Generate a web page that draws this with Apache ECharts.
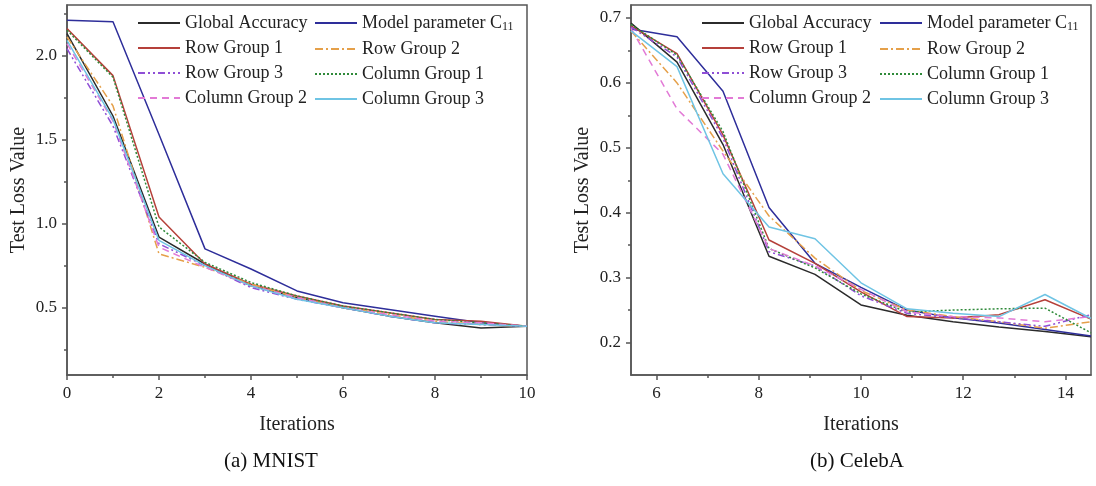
<!DOCTYPE html>
<html>
<head>
<meta charset="utf-8">
<script src="https://cdn.jsdelivr.net/npm/echarts@6/dist/echarts.min.js"></script>
<style>
    html, body { margin: 0; padding: 0; background: #fff; }
    #main { width: 1096px; height: 486px; }
</style>
</head>
<body>
<div id="main"></div>
<script>
// MNIST (left panel)
var mnistIter = [0, 1, 2, 3, 4, 5, 6, 7, 8, 9, 10];
var mnistGlobal = [2.13, 1.64, 0.92, 0.76, 0.63, 0.56, 0.50, 0.45, 0.41, 0.38, 0.39];
var mnistModel  = [2.21, 2.20, 1.53, 0.85, 0.73, 0.60, 0.53, 0.49, 0.45, 0.41, 0.39];
var mnistRow1   = [2.16, 1.88, 1.04, 0.76, 0.64, 0.57, 0.51, 0.47, 0.43, 0.42, 0.39];
var mnistRow2   = [2.11, 1.70, 0.82, 0.74, 0.64, 0.56, 0.50, 0.46, 0.42, 0.40, 0.39];
var mnistRow3   = [2.04, 1.58, 0.88, 0.75, 0.62, 0.55, 0.50, 0.45, 0.41, 0.40, 0.39];
var mnistCol1   = [2.15, 1.87, 0.98, 0.77, 0.65, 0.57, 0.51, 0.47, 0.43, 0.41, 0.39];
var mnistCol2   = [2.07, 1.61, 0.86, 0.74, 0.63, 0.56, 0.50, 0.46, 0.42, 0.41, 0.39];
var mnistCol3   = [2.09, 1.62, 0.90, 0.75, 0.63, 0.55, 0.50, 0.45, 0.41, 0.40, 0.39];

// CelebA (right panel)
var celebIter = [5.5, 6.4, 7.3, 8.2, 9.1, 10.0, 10.9, 11.8, 12.7, 13.6, 14.5];
var celebGlobal = [0.692, 0.632, 0.505, 0.333, 0.305, 0.258, 0.242, 0.232, 0.224, 0.217, 0.209];
var celebModel  = [0.683, 0.671, 0.587, 0.408, 0.322, 0.285, 0.250, 0.238, 0.230, 0.220, 0.210];
var celebRow1   = [0.688, 0.645, 0.520, 0.358, 0.322, 0.278, 0.240, 0.238, 0.243, 0.266, 0.236];
var celebRow2   = [0.680, 0.600, 0.495, 0.395, 0.330, 0.280, 0.250, 0.240, 0.232, 0.222, 0.232];
var celebRow3   = [0.686, 0.640, 0.515, 0.340, 0.318, 0.272, 0.245, 0.238, 0.232, 0.225, 0.243];
var celebCol1   = [0.690, 0.643, 0.525, 0.345, 0.315, 0.275, 0.247, 0.250, 0.252, 0.253, 0.215];
var celebCol2   = [0.684, 0.560, 0.490, 0.345, 0.318, 0.282, 0.247, 0.240, 0.238, 0.232, 0.240];
var celebCol3   = [0.680, 0.625, 0.460, 0.378, 0.360, 0.292, 0.252, 0.245, 0.240, 0.274, 0.237];

// tick labels
var mnistXTicks = [0, 2, 4, 6, 8, 10];
var mnistXMinor = [1, 3, 5, 7, 9];
var mnistYTicks = [0.5, 1.0, 1.5, 2.0];
var mnistYMinor = [0.25, 0.75, 1.25, 1.75, 2.25];
var celebXTicks = [6, 8, 10, 12, 14];
var celebXMinor = [7, 9, 11, 13];
var celebYTicks = [0.2, 0.3, 0.4, 0.5, 0.6, 0.7];
var celebYMinor = [0.25, 0.35, 0.45, 0.55, 0.65];

var names = ['Global Accuracy', 'Model parameter C11', 'Row Group 1', 'Row Group 2',
             'Row Group 3', 'Column Group 1', 'Column Group 2', 'Column Group 3'];
var colors = ['#2b2b2b', '#2e2e9a', '#b5403a', '#e5a04a', '#8f4fd6', '#2f8a3a', '#e27ad6', '#6fc4e4'];
var dashes = ['solid', 'solid', 'solid', [8, 3, 2, 3], [7, 3, 2, 3, 2, 3], [2, 2], [7, 5], 'solid'];

var serif = 'Liberation Serif';
var axisColor = '#555';

function pairs(xs, ys) {
    var out = [];
    for (var i = 0; i < xs.length; i++) {
        out.push([xs[i], ys[i]]);
    }
    return out;
}

function mainAxis(grid, min, max, ticks, name, gap, digits) {
    return {
        gridIndex: grid,
        type: 'value',
        min: min,
        max: max,
        name: name,
        nameLocation: 'middle',
        nameGap: gap,
        nameTextStyle: { fontFamily: serif, fontSize: 20, color: '#222' },
        axisLine: { show: true, lineStyle: { color: axisColor, width: 1.5 } },
        axisTick: { show: true, length: 5, customValues: ticks, lineStyle: { color: axisColor, width: 1.5 } },
        axisLabel: {
            customValues: ticks,
            fontFamily: serif, fontSize: 17, color: '#222', margin: 10,
            formatter: function (v) { return digits ? v.toFixed(digits) : String(v); }
        },
        splitLine: { show: false }
    };
}

function minorAxis(grid, min, max, ticks, pos) {
    return {
        gridIndex: grid,
        type: 'value',
        position: pos,
        min: min,
        max: max,
        axisLine: { show: false },
        axisTick: { show: true, length: 3, customValues: ticks, lineStyle: { color: axisColor, width: 1.5 } },
        axisLabel: { show: false },
        splitLine: { show: false }
    };
}

function legendCol(left, data) {
    return {
        orient: 'vertical',
        left: left,
        top: 9,
        itemWidth: 42,
        itemHeight: 14,
        itemGap: 7,
        data: data,
        itemStyle: { opacity: 0, borderWidth: 0 },
        textStyle: {
            fontFamily: serif, fontSize: 18, color: '#222',
            rich: { sub: { fontFamily: serif, fontSize: 12, color: '#222', verticalAlign: 'bottom', padding: [8, 0, 0, 0] } }
        },
        formatter: function (n) {
            return n === 'Model parameter C11' ? 'Model parameter C{sub|11}' : n;
        }
    };
}

var mnistSets = [mnistGlobal, mnistModel, mnistRow1, mnistRow2, mnistRow3, mnistCol1, mnistCol2, mnistCol3];
var celebSets = [celebGlobal, celebModel, celebRow1, celebRow2, celebRow3, celebCol1, celebCol2, celebCol3];

var series = [];
for (var k = 0; k < names.length; k++) {
    var ls = { color: colors[k], width: 1.5, type: dashes[k] };
    series.push({
        name: names[k], type: 'line', xAxisIndex: 0, yAxisIndex: 0,
        symbol: 'none', lineStyle: ls, itemStyle: { color: colors[k] },
        data: pairs(mnistIter, mnistSets[k])
    });
    series.push({
        name: names[k], type: 'line', xAxisIndex: 2, yAxisIndex: 2,
        symbol: 'none', lineStyle: ls, itemStyle: { color: colors[k] },
        data: pairs(celebIter, celebSets[k])
    });
}

var myChart = echarts.init(document.getElementById('main'));

var option = {
    backgroundColor: '#fff',
    animation: false,
    grid: [
        { left: 67, right: 569, top: 5, bottom: 111, show: true, borderColor: axisColor, borderWidth: 1.5 },
        { left: 631, right: 5, top: 5, bottom: 111, show: true, borderColor: axisColor, borderWidth: 1.5 }
    ],
    legend: [
        legendCol(132, ['Global Accuracy', 'Row Group 1', 'Row Group 3', 'Column Group 2']),
        legendCol(309, ['Model parameter C11', 'Row Group 2', 'Column Group 1', 'Column Group 3']),
        legendCol(696, ['Global Accuracy', 'Row Group 1', 'Row Group 3', 'Column Group 2']),
        legendCol(874, ['Model parameter C11', 'Row Group 2', 'Column Group 1', 'Column Group 3'])
    ],
    xAxis: [
        mainAxis(0, 0, 10, mnistXTicks, 'Iterations', 40, 0),
        minorAxis(0, 0, 10, mnistXMinor, 'bottom'),
        mainAxis(1, 5.5, 14.5, celebXTicks, 'Iterations', 40, 0),
        minorAxis(1, 5.5, 14.5, celebXMinor, 'bottom')
    ],
    yAxis: [
        mainAxis(0, 0.1, 2.3, mnistYTicks, 'Test Loss Value', 38, 1),
        minorAxis(0, 0.1, 2.3, mnistYMinor, 'left'),
        mainAxis(1, 0.15, 0.72, celebYTicks, 'Test Loss Value', 38, 1),
        minorAxis(1, 0.15, 0.72, celebYMinor, 'left')
    ],
    graphic: [
        { type: 'text', left: 224, top: 451, style: { text: '(a) MNIST', fontFamily: serif, fontSize: 21, fill: '#111' } },
        { type: 'text', left: 810, top: 451, style: { text: '(b) CelebA', fontFamily: serif, fontSize: 21, fill: '#111' } }
    ],
    series: series
};

// series use main axes 0 and 2, the minor ones only carry ticks
option.xAxis[0].position = 'bottom';
option.xAxis[2].position = 'bottom';
option.yAxis[0].position = 'left';
option.yAxis[2].position = 'left';

myChart.setOption(option);
</script>
</body>
</html>
